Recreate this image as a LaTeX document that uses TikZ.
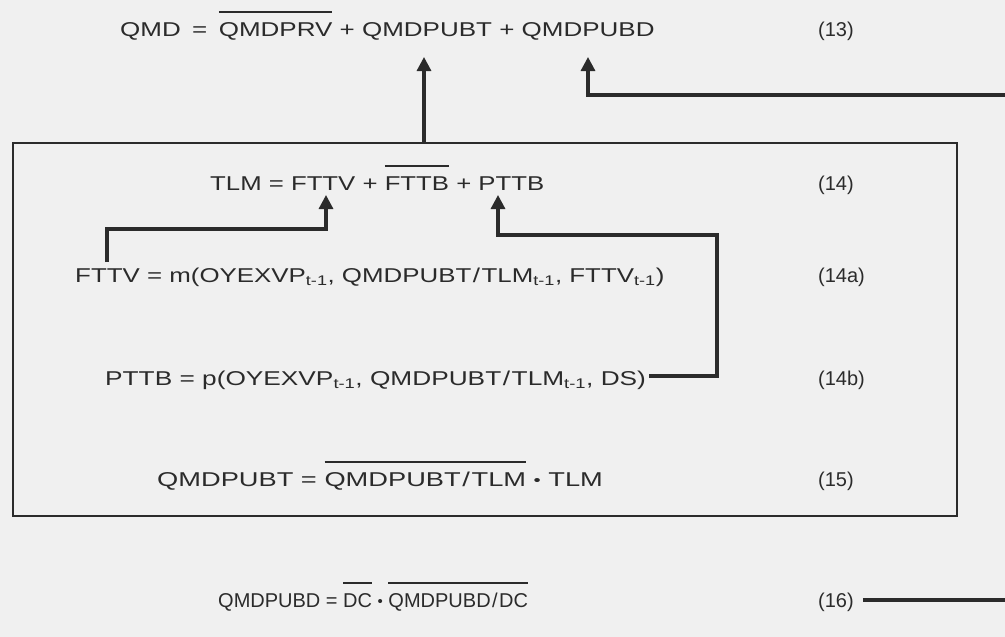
\documentclass[tikz,border=0pt]{standalone}
\usepackage{fontspec}
\setmainfont[FakeStretch=1.25]{Liberation Sans}
\newfontfamily\numfont{Liberation Sans}
\newfontfamily\condfont{Liberation Sans}
\usetikzlibrary{arrows.meta}
\definecolor{ink}{HTML}{2B2B2B}
\definecolor{paper}{HTML}{F0F0F0}
\newcommand\ovl[1]{\setbox0\hbox{#1}\rlap{\raisebox{1.15em}{\rule{\wd0}{2pt}}}\box0\relax}
\newcommand\sub[1]{\textsubscript{#1}}
\newcommand\bdot{\raisebox{1pt}{\scalebox{0.75}{•}}}
\newcommand\fslash{\kern1.5pt/\kern1.5pt}
\newcommand\weq{\hspace{4pt}=\hspace{4pt}}
\begin{document}
\begin{tikzpicture}[x=1pt,y=-1pt,
  eq/.style={anchor=base west, inner sep=0pt, font=\fontsize{20}{24}\selectfont, text=ink},
  num/.style={anchor=base west, inner sep=0pt, font=\numfont\fontsize{20}{24}\selectfont, text=ink},
  arr/.style={draw=ink, line width=3.2pt, -{Triangle[width=14pt,length=14pt]}},
  heavy/.style={draw=ink, line width=3.2pt},
  frame/.style={draw=ink, line width=1.8pt}]
\fill[paper] (0,0) rectangle (1005,637);
\useasboundingbox (0,0) rectangle (1005,637);

\node[eq] (e13) at (120,36) {\scalebox{1.04}[1]{QMD \weq{} \ovl{QMDPRV} + QMDPUBT + QMDPUBD}};
\node[num] (n13) at (818,36) {(13)};
\node[frame, anchor=north west, minimum width=944pt, minimum height=373pt, inner sep=0pt] (box) at (12,142) {};
\node[eq] (e14) at (210,190) {\scalebox{1.03}[1]{TLM = FTTV + \ovl{FTTB} + PTTB}};
\node[num] (n14) at (818,190) {(14)};
\node[eq] (e14a) at (75,282) {\scalebox{1.035}[1]{FTTV = m(OYEXVP\sub{t-1}, QMDPUBT\fslash TLM\sub{t-1}, FTTV\sub{t-1})}};
\node[num] (n14a) at (818,282) {(14a)};
\node[eq] (e14b) at (105,385) {\scalebox{1.05}[1]{PTTB = p(OYEXVP\sub{t-1}, QMDPUBT\fslash TLM\sub{t-1}, DS)}};
\node[num] (n14b) at (818,385) {(14b)};
\node[eq] (e15) at (157,486) {\scalebox{1.09}[1]{QMDPUBT = \ovl{QMDPUBT\fslash TLM} \bdot{} TLM}};
\node[num] (n15) at (818,486) {(15)};
\node[eq, font=\condfont\fontsize{20}{24}\selectfont] (e16) at (218,607) {QMDPUBD = \ovl{DC} \bdot{} \ovl{QMDPUBD\fslash DC}};
\node[num] (n16) at (818,607) {(16)};

\coordinate (a13) at (424,57);
\coordinate (a13d) at (588,57);
\coordinate (r13) at (1005,95);
\coordinate (s14a) at (107,262);
\coordinate (h14a) at (107,229);
\coordinate (a14v) at (326,195);
\coordinate (a14p) at (498,195);
\coordinate (k14b) at (717,376);
\coordinate (h14b) at (717,235);
\coordinate (r16) at (1005,600);

\draw[arr] (box.north -| a13) -- (a13);
\draw[arr] (r13) -| (a13d);
\draw[arr] (s14a) -- (h14a) -| (a14v);
\draw[arr] (e14b.east |- k14b) ++(3,0) -- (k14b) -- (h14b) -| (a14p);
\draw[heavy] (n16.east |- r16) ++(9,0) -- (r16);
\end{tikzpicture}
\end{document}
